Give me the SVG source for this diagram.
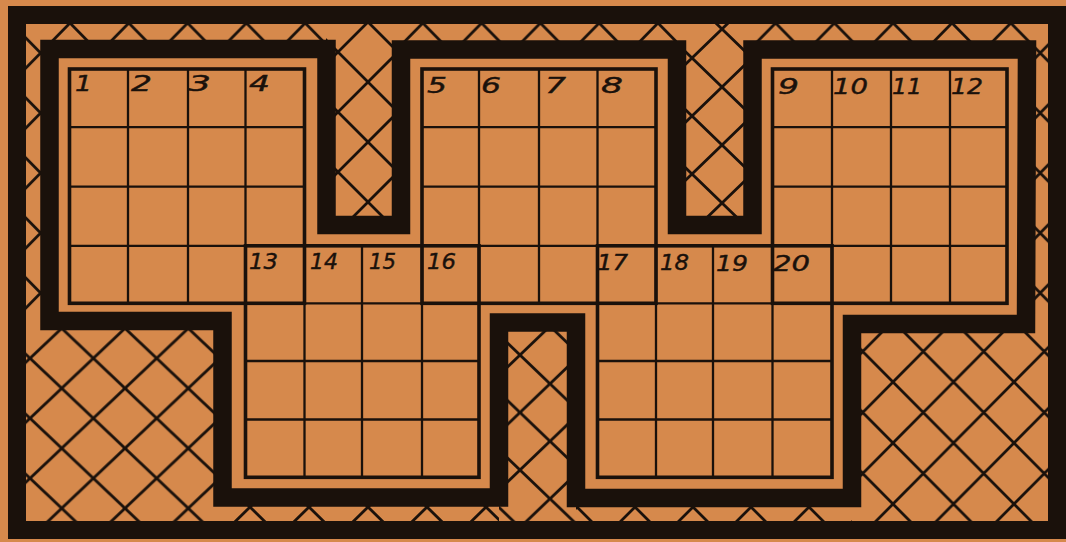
<svg xmlns="http://www.w3.org/2000/svg" width="1066" height="542" viewBox="0 0 1066 542">
<style>
.bg{fill:#d6894c}
.hl{fill:none;stroke:#1a110b;stroke-width:2.8}
.band{fill:#d6894c;stroke:#1a110b;stroke-width:18.5;stroke-linejoin:miter}
.frame{fill:none;stroke:#1a110b;stroke-width:18}
.gi{fill:none;stroke:#1a110b;stroke-width:2.3}
.go{fill:none;stroke:#1a110b;stroke-width:3.6}
.lbl{font-family:"DejaVu Sans","Liberation Sans",sans-serif;font-style:oblique;font-size:21px;fill:#1a110b;stroke:#1a110b;stroke-width:0.4}
</style>
<defs>
<pattern id="pTop" patternUnits="userSpaceOnUse" x="70" y="23" width="58.8" height="60"><rect class="bg" x="-1" y="-1" width="61" height="62"/><path class="hl" d="M-58.8,-60 L117.6,120 M0,-60 L117.6,60 M-58.8,0 L58.8,120 M117.6,-60 L-58.8,120 M58.8,-60 L-58.8,60 M117.6,0 L0,120"/></pattern>
<pattern id="pNTL" patternUnits="userSpaceOnUse" x="368" y="82" width="60" height="60"><rect class="bg" x="-1" y="-1" width="62" height="62"/><path class="hl" d="M-60,-60 L120,120 M0,-60 L120,60 M-60,0 L60,120 M120,-60 L-60,120 M60,-60 L-60,60 M120,0 L0,120"/></pattern>
<pattern id="pNTR" patternUnits="userSpaceOnUse" x="722" y="87" width="60" height="58"><rect class="bg" x="-1" y="-1" width="62" height="60"/><path class="hl" d="M-60,-58 L120,116 M0,-58 L120,58 M-60,0 L60,116 M120,-58 L-60,116 M60,-58 L-60,58 M120,0 L0,116"/></pattern>
<pattern id="pNLM" patternUnits="userSpaceOnUse" x="520" y="355" width="60" height="57.5"><rect class="bg" x="-1" y="-1" width="62" height="60"/><path class="hl" d="M-60,-57.5 L120,115 M0,-57.5 L120,57.5 M-60,0 L60,115 M120,-57.5 L-60,115 M60,-57.5 L-60,57.5 M120,0 L0,115"/></pattern>
<pattern id="pLL" patternUnits="userSpaceOnUse" x="61.7" y="388.3" width="63.3" height="60"><rect class="bg" x="-1" y="-1" width="66" height="62"/><path class="hl" d="M-63.3,-60 L126.6,120 M0,-60 L126.6,60 M-63.3,0 L63.3,120 M126.6,-60 L-63.3,120 M63.3,-60 L-63.3,60 M126.6,0 L0,120"/></pattern>
<pattern id="pLR" patternUnits="userSpaceOnUse" x="893" y="382" width="60.5" height="61"><rect class="bg" x="-1" y="-1" width="63" height="63"/><path class="hl" d="M-60.5,-61 L121,122 M0,-61 L121,61 M-60.5,0 L60.5,122 M121,-61 L-60.5,122 M60.5,-61 L-60.5,61 M121,0 L0,122"/></pattern>
<pattern id="pB1" patternUnits="userSpaceOnUse" x="368" y="507" width="59" height="58"><rect class="bg" x="-1" y="-1" width="61" height="60"/><path class="hl" d="M-59,-58 L118,116 M0,-58 L118,58 M-59,0 L59,116 M118,-58 L-59,116 M59,-58 L-59,58 M118,0 L0,116"/></pattern>
<pattern id="pB2" patternUnits="userSpaceOnUse" x="693" y="507" width="58" height="58"><rect class="bg" x="-1" y="-1" width="60" height="60"/><path class="hl" d="M-58,-58 L116,116 M0,-58 L116,58 M-58,0 L58,116 M116,-58 L-58,116 M58,-58 L-58,58 M116,0 L0,116"/></pattern>
</defs>

<rect class="bg" x="0" y="0" width="1066" height="542"/>

<g id="hatching">
<rect x="20" y="18" width="1035" height="512" fill="url(#pTop)"/>
<rect x="222" y="497" width="277" height="33" fill="url(#pB1)"/>
<rect x="576" y="497" width="276" height="33" fill="url(#pB2)"/>
<rect x="326" y="18" width="75" height="207" fill="url(#pNTL)"/>
<rect x="677" y="18" width="76" height="207" fill="url(#pNTR)"/>
<rect x="20" y="321" width="203" height="209" fill="url(#pLL)"/>
<rect x="852" y="324" width="203" height="206" fill="url(#pLR)"/>
<rect x="499" y="322" width="77" height="208" fill="url(#pNLM)"/>
</g>

<g id="board-outline">
<path class="band" d="M49.5,49 L326.5,49 L326.5,225 L401,225 L401,49.5 L677,49.5 L677,225 L752.5,225 L752.5,49.5 L1027,49.5 L1026,324 L852,324 L852,498 L576,498 L576,322.5 L499,322.5 L499,497.5 L222.5,497.5 L222.5,321 L49.5,321 Z"/>
</g>

<g id="frame">
<rect class="frame" x="17" y="15" width="1040" height="515"/>
</g>

<g id="block-1-4">
<path class="gi" d="M128,69V303.3 M188,69V303.3 M245.5,69V303.3 M69.5,127.2H304.5 M69.5,186.6H304.5 M69.5,245.8H304.5"/>
<rect class="go" x="69.5" y="69" width="235" height="234.3"/>
</g>
<g id="block-5-8">
<path class="gi" d="M479,69V303.3 M539,69V303.3 M597.5,69V303.3 M422,127.2H656 M422,186.6H656 M422,245.8H656"/>
<rect class="go" x="422" y="69" width="234" height="234.3"/>
</g>
<g id="block-9-12">
<path class="gi" d="M832,69V303.3 M891,69V303.3 M950,69V303.3 M772.5,127.2H1007 M772.5,186.6H1007 M772.5,245.8H1007"/>
<rect class="go" x="772.5" y="69" width="234.5" height="234.3"/>
</g>
<g id="block-13-16">
<path class="gi" d="M304.5,245.8V477.3 M362,245.8V477.3 M422,245.8V477.3 M245.5,303.3H479 M245.5,361H479 M245.5,419.5H479"/>
<rect class="go" x="245.5" y="245.8" width="233.5" height="231.5"/>
</g>
<g id="block-17-20">
<path class="gi" d="M656,245.8V477.3 M713,245.8V477.3 M772.5,245.8V477.3 M597.5,303.3H832 M597.5,361H832 M597.5,419.5H832"/>
<rect class="go" x="597.5" y="245.8" width="234.5" height="231.5"/>
</g>

<g id="labels">
<text class="lbl" x="75" y="91" textLength="17" lengthAdjust="spacingAndGlyphs">1</text>
<text class="lbl" x="131" y="91" textLength="21" lengthAdjust="spacingAndGlyphs">2</text>
<text class="lbl" x="188" y="91" textLength="23" lengthAdjust="spacingAndGlyphs">3</text>
<text class="lbl" x="249" y="91" textLength="21" lengthAdjust="spacingAndGlyphs">4</text>
<text class="lbl" x="427" y="93" textLength="20" lengthAdjust="spacingAndGlyphs">5</text>
<text class="lbl" x="481" y="93" textLength="20" lengthAdjust="spacingAndGlyphs">6</text>
<text class="lbl" x="545" y="93" textLength="21" lengthAdjust="spacingAndGlyphs">7</text>
<text class="lbl" x="601" y="93" textLength="22" lengthAdjust="spacingAndGlyphs">8</text>
<text class="lbl" x="778" y="94" textLength="21" lengthAdjust="spacingAndGlyphs">9</text>
<text class="lbl" x="833" y="94" textLength="35" lengthAdjust="spacingAndGlyphs">10</text>
<text class="lbl" x="892" y="94" textLength="30" lengthAdjust="spacingAndGlyphs">11</text>
<text class="lbl" x="951" y="94" textLength="32" lengthAdjust="spacingAndGlyphs">12</text>
<text class="lbl" x="249" y="268.5" textLength="29" lengthAdjust="spacingAndGlyphs">13</text>
<text class="lbl" x="310" y="268.5" textLength="28" lengthAdjust="spacingAndGlyphs">14</text>
<text class="lbl" x="369" y="269" textLength="27" lengthAdjust="spacingAndGlyphs">15</text>
<text class="lbl" x="427" y="269" textLength="29" lengthAdjust="spacingAndGlyphs">16</text>
<text class="lbl" x="597" y="270" textLength="31" lengthAdjust="spacingAndGlyphs">17</text>
<text class="lbl" x="660" y="270" textLength="29" lengthAdjust="spacingAndGlyphs">18</text>
<text class="lbl" x="716" y="271" textLength="32" lengthAdjust="spacingAndGlyphs">19</text>
<text class="lbl" x="773" y="271" textLength="37" lengthAdjust="spacingAndGlyphs">20</text>
</g>
</svg>
